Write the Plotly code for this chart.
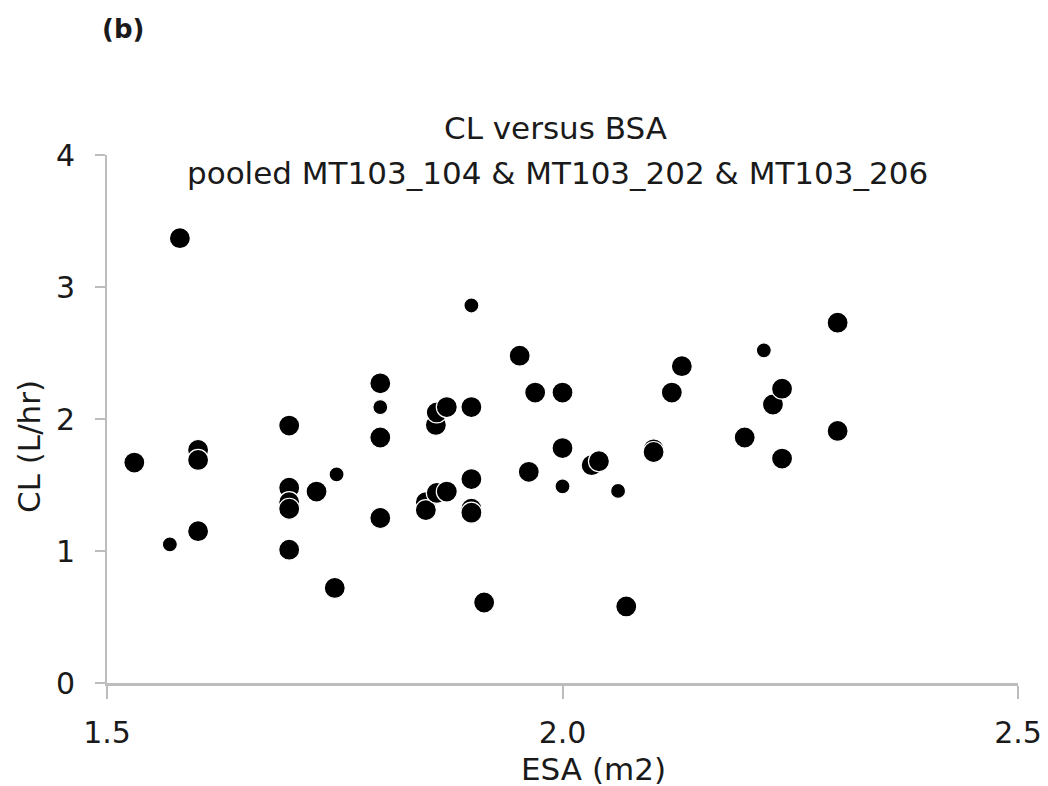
import plotly.graph_objects as go

# Large markers (BSA in m2, CL in L/hr)
bsa_large = [1.53, 1.58, 1.60, 1.60, 1.60, 1.70, 1.70, 1.70, 1.70, 1.70,
             1.73, 1.75, 1.80, 1.80, 1.80, 1.85, 1.85, 1.862, 1.873, 1.861,
             1.862, 1.873, 1.90, 1.90, 1.90, 1.90, 1.914, 1.953, 1.97, 2.00,
             1.963, 2.00, 2.032, 2.04, 2.07, 2.10, 2.10, 2.12, 2.131, 2.20,
             2.231, 2.241, 2.241, 2.302, 2.302]
cl_large = [1.67, 3.37, 1.765, 1.69, 1.15, 1.95, 1.48, 1.37, 1.32, 1.01,
            1.45, 0.72, 2.27, 1.86, 1.25, 1.37, 1.31, 1.44, 1.45, 1.955,
            2.05, 2.09, 2.09, 1.545, 1.32, 1.29, 0.61, 2.48, 2.20, 2.20,
            1.60, 1.78, 1.65, 1.68, 0.58, 1.77, 1.75, 2.20, 2.40, 1.86,
            2.11, 2.23, 1.70, 2.73, 1.91]

# Small markers
bsa_small = [1.569, 1.752, 1.80, 1.90, 2.00, 2.061, 2.221]
cl_small = [1.05, 1.58, 2.09, 2.86, 1.49, 1.455, 2.52]

x_tickvals = [1.5, 2.0, 2.5]
x_ticktext = ["1.5", "2.0", "2.5"]
y_tickvals = [0, 1, 2, 3, 4]
y_ticktext = ["0", "1", "2", "3", "4"]

title_line1 = "CL versus BSA"
title_line2 = "pooled MT103_104 & MT103_202 & MT103_206"
x_title = "ESA (m2)"
y_title = "CL (L/hr)"
panel_label = "(b)"

FONT = "DejaVu Sans"
TXT = "#1a1a1a"
OFF = 8  # page body margin of the browser
W, H = 1048 - OFF, 786 - OFF
L, R, T, B = 107 - OFF, 30, 155 - OFF, 103
PW, PH = W - L - R, H - T - B

fig = go.Figure()
fig.add_trace(go.Scatter(
    x=bsa_large, y=cl_large, mode="markers",
    marker=dict(size=21, color="black", line=dict(color="white", width=1.2)),
    cliponaxis=False, showlegend=False))
fig.add_trace(go.Scatter(
    x=bsa_small, y=cl_small, mode="markers",
    marker=dict(size=15, color="black", line=dict(color="white", width=1.2)),
    cliponaxis=False, showlegend=False))


def px_to_paper(xp, yp):
    # xp, yp are screen pixel positions (including the page offset)
    return (xp - OFF - L) / PW, (H - B - (yp - OFF)) / PH


fig.update_layout(
    width=W, height=H,
    margin=dict(l=L, r=R, t=T, b=B),
    paper_bgcolor="white", plot_bgcolor="white",
    font=dict(family=FONT, color=TXT),
    xaxis=dict(range=[1.5, 2.5], tickvals=x_tickvals, ticktext=x_ticktext,
               automargin=False,
               showgrid=False, zeroline=False,
               showline=True, linecolor="#bdbdbd", linewidth=3,
               ticks="outside", ticklen=13, tickcolor="#bdbdbd", tickwidth=1.5,
               ticklabelstandoff=8,
               tickfont=dict(family=FONT, size=30, color=TXT)),
    yaxis=dict(range=[0, 4], tickvals=y_tickvals, ticktext=y_ticktext,
               automargin=False,
               showgrid=False, zeroline=False,
               showline=True, linecolor="#bdbdbd", linewidth=2,
               ticks="outside", ticklen=10, tickcolor="#bdbdbd", tickwidth=1.5,
               ticklabelstandoff=14,
               tickfont=dict(family=FONT, size=30, color=TXT)),
)

ax, ay = px_to_paper(555, 128)
fig.add_annotation(text=title_line1, x=ax, y=ay, xref="paper", yref="paper",
                   showarrow=False, xanchor="center", yanchor="middle",
                   font=dict(family=FONT, size=31, color=TXT))
ax, ay = px_to_paper(557, 173)
fig.add_annotation(text=title_line2, x=ax, y=ay, xref="paper", yref="paper",
                   showarrow=False, xanchor="center", yanchor="middle",
                   font=dict(family=FONT, size=31, color=TXT))
ax, ay = px_to_paper(100, 29)
fig.add_annotation(text="<b>" + panel_label + "</b>", x=ax, y=ay,
                   xref="paper", yref="paper", showarrow=False,
                   xanchor="left", yanchor="middle",
                   font=dict(family=FONT, size=26, color=TXT))
# axis titles
ax, ay = px_to_paper(593, 769)
fig.add_annotation(text=x_title, x=ax, y=ay, xref="paper", yref="paper",
                   showarrow=False, xanchor="center", yanchor="middle",
                   font=dict(family=FONT, size=31, color=TXT))
ax, ay = px_to_paper(29, 447)
fig.add_annotation(text=y_title, x=ax, y=ay, xref="paper", yref="paper",
                   showarrow=False, xanchor="center", yanchor="middle",
                   textangle=-90,
                   font=dict(family=FONT, size=31, color=TXT))

fig.write_html("out.html")
